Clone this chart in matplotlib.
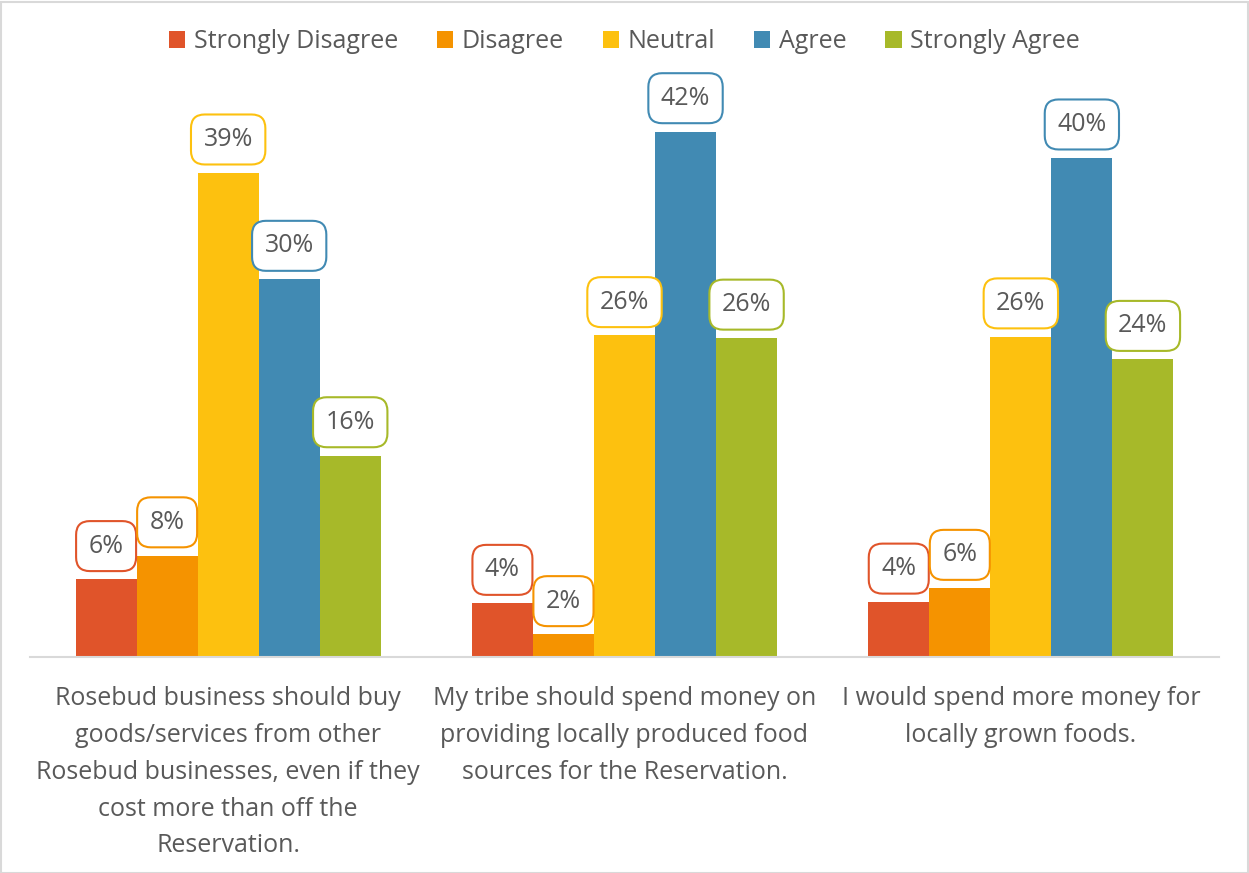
import matplotlib.pyplot as plt
from matplotlib.patches import Rectangle
import numpy as np

plt.rcParams['font.family'] = ['Open Sans', 'DejaVu Sans']

categories = [
    "Rosebud business should buy\ngoods/services from other\nRosebud businesses, even if they\ncost more than off the\nReservation.",
    "My tribe should spend money on\nproviding locally produced food\nsources for the Reservation.",
    "I would spend more money for\nlocally grown foods.",
]
series_names = ["Strongly Disagree", "Disagree", "Neutral", "Agree", "Strongly Agree"]
values = {
    "Strongly Disagree": [6.2, 4.3, 4.4],
    "Disagree":          [8.1, 1.8, 5.5],
    "Neutral":           [38.7, 25.7, 25.6],
    "Agree":             [30.2, 42.0, 39.9],
    "Strongly Agree":    [16.1, 25.5, 23.8],
}
colors = ["#E0542A", "#F59300", "#FDC10F", "#418AB3", "#A7B929"]

W, H = 1249, 873
fig = plt.figure(figsize=(W / 100, H / 100), dpi=100)
fig.patch.set_facecolor("white")

# thin light frame round the whole chart
fig.add_artist(Rectangle((0.5 / W, 0.5 / H), 1 - 2 / W, 1 - 2 / H,
                         transform=fig.transFigure, fill=False,
                         edgecolor="#D9D9D9", linewidth=1.5))

ax = fig.add_axes([30 / W, (H - 657) / H, (1219 - 30) / W, (657 - 94) / H])

n = len(series_names)
bw = 0.154
x = np.arange(len(categories))
text_color = "#595959"
fs = 18

for i, (name, col) in enumerate(zip(series_names, colors)):
    offs = (i - (n - 1) / 2) * bw
    bars = ax.bar(x + offs, values[name], width=bw, color=col, label=name,
                  edgecolor="none", zorder=2)
    for b, v in zip(bars, values[name]):
        ax.annotate(f"{v:.0f}%", xy=(b.get_x() + b.get_width() / 2, v),
                    xytext=(0, 15), textcoords="offset points",
                    ha="center", va="bottom", fontsize=fs, color=text_color,
                    bbox=dict(boxstyle="round,pad=0.5,rounding_size=0.55",
                              facecolor="white", edgecolor=col, linewidth=1.5),
                    annotation_clip=False, zorder=3)

ax.set_xlim(-0.5, len(categories) - 0.5)
ax.set_ylim(0, 45)
ax.set_yticks([])
ax.set_xticks(x)
ax.set_xticklabels(categories, fontsize=fs, color=text_color, linespacing=1.62)
ax.tick_params(axis="x", length=0, pad=21)
for s in ["top", "right", "left"]:
    ax.spines[s].set_visible(False)
ax.spines["bottom"].set_color("#D9D9D9")
ax.spines["bottom"].set_linewidth(1.5)

leg = fig.legend(loc="center", bbox_to_anchor=(0.5, (H - 42) / H), ncol=5,
                 frameon=False, fontsize=fs, handlelength=0.65, handleheight=0.65,
                 handletextpad=0.35, columnspacing=1.55)
for t in leg.get_texts():
    t.set_color(text_color)

fig.savefig("out.png", dpi=100, facecolor="white")
